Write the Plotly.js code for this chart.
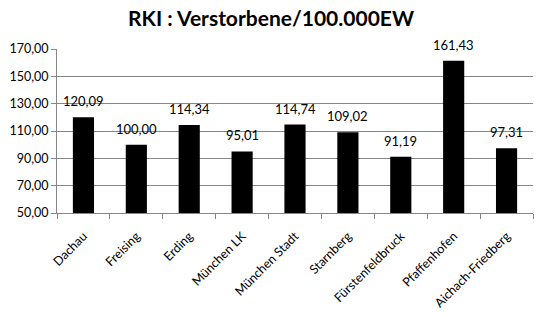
<!DOCTYPE html>
<html><head><meta charset="utf-8">
<script src="https://cdn.plot.ly/plotly-3.0.1.min.js"></script>
<style>html,body{margin:0;padding:0;background:#fff}#c{width:542px;height:317px}</style>
</head><body><div id="c"></div>
<script>
const categories = ["Dachau","Freising","Erding","München LK","München Stadt","Starnberg","Fürstenfeldbruck","Pfaffenhofen","Aichach-Friedberg"];
const values = [120.09,100.00,114.34,95.01,114.74,109.02,91.19,161.43,97.31];
const yTicks = [50,70,90,110,130,150,170];

const fmt = v => v.toFixed(2).replace('.', ',');
const font = "Lato, 'Open Sans', sans-serif";

const annotations = categories.map((c,i)=>({
  x: c, y: values[i], xref:'x', yref:'y', text: fmt(values[i]),
  showarrow:false, yanchor:'bottom', yshift:6,
  font:{family:font, size:13, color:'#000'}
}));

Plotly.newPlot('c', [{
  type:'bar', x:categories, y:values,
  marker:{color:'#000000'}, hoverinfo:'none'
}], {
  width:542, height:317,
  margin:{l:57, r:9, t:49, b:104},
  paper_bgcolor:'#fff', plot_bgcolor:'#fff',
  separators:',.',
  bargap:0.6,
  showlegend:false,
  title:{text:'<b>RKI : Verstorbene/100.000EW</b>', x:0.5, xanchor:'center', y:0.94, yanchor:'middle',
    font:{family:font, size:21, color:'#000'}},
  xaxis:{type:'category', showline:true, linecolor:'#868686', linewidth:1,
    ticks:'outside', tickson:'boundaries', ticklen:5, tickcolor:'#868686',
    tickangle:-45, showgrid:false, ticklabelstandoff:10,
    tickfont:{family:font, size:12.5, color:'#000'}},
  yaxis:{range:[50,170], tickvals:yTicks, tickformat:'.2f',
    showline:true, linecolor:'#868686', linewidth:1,
    ticks:'outside', ticklen:5, tickcolor:'#868686',
    showgrid:true, gridcolor:'#868686', gridwidth:1, zeroline:false,
    tickfont:{family:font, size:12.5, color:'#000'}},
  annotations: annotations
}, {displayModeBar:false, staticPlot:true});
</script>
</body></html>
